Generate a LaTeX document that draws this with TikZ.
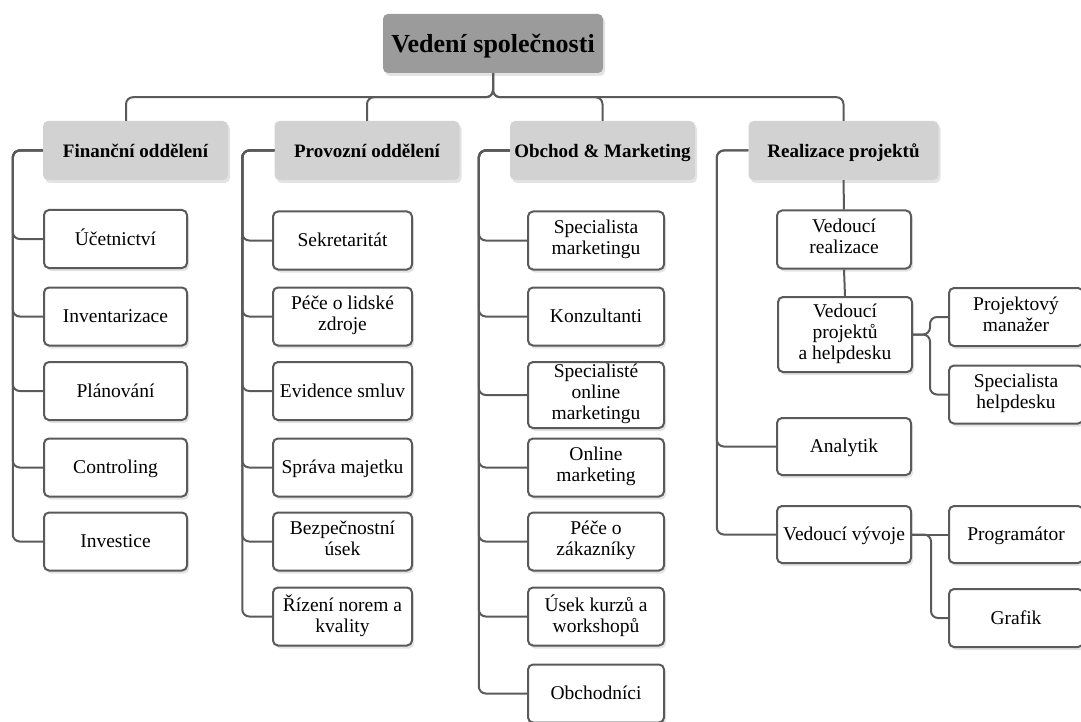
\documentclass[tikz,border=0pt]{standalone}
\usepackage{fontspec}
\setmainfont{Liberation Serif}
\usetikzlibrary{shadows}

\definecolor{linegray}{HTML}{5A5A5A}
\definecolor{rootgray}{HTML}{9B9B9B}
\definecolor{headgray}{HTML}{D2D2D2}

\tikzset{
  boxshadow/.style={drop shadow={opacity=0.22, shadow xshift=2pt, shadow yshift=-3pt}},
  root/.style={fill=rootgray, rounded corners=5pt, minimum width=220pt,
    minimum height=59pt, inner sep=0pt, boxshadow, text height=20pt, text depth=2pt,
    font=\fontsize{26}{30}\selectfont\bfseries},
  head/.style={fill=headgray, rounded corners=5pt, minimum width=185pt,
    minimum height=59pt, inner sep=0pt, boxshadow, text height=17pt, text depth=2pt,
    font=\fontsize{19}{22}\selectfont\bfseries},
  leaf/.style={draw=linegray, line width=2pt, fill=white, rounded corners=5pt,
    minimum height=58pt, inner sep=0pt, align=center, boxshadow,
    execute at begin node={\rule{0pt}{18pt}},
    execute at end node={\rule[-6pt]{0pt}{6pt}},
    font=\fontsize{19.5}{21}\selectfont},
  conn/.style={draw=linegray, line width=2pt, rounded corners=7pt},
}

\begin{document}
\begin{tikzpicture}[x=1pt, y=-1pt]
  \useasboundingbox (0,0) rectangle (1081,722);

  % Vedeni a useky
  \node[root] (vedeni) at (493,43.5) {Vedení společnosti};
  \node[head] (fin) at (135.5,150.5) {Finanční oddělení};
  \node[head] (prov) at (367,150.5) {Provozní oddělení};
  \node[head] (obch) at (602.5,150.5) {Obchod \& Marketing};
  \node[head, minimum width=190pt] (real) at (843.5,150.5) {Realizace projektů};

  % Financni oddeleni
  \begin{scope}[every node/.style={leaf, minimum width=143pt}]
    \node (uct) at (115.5,239) {Účetnictví};
    \node (inv) at (115.5,316.5) {Inventarizace};
    \node (plan) at (115.5,391) {Plánování};
    \node (contr) at (115.5,467.5) {Controling};
    \node (invest) at (115.5,541.5) {Investice};
  \end{scope}

  % Provozni oddeleni
  \begin{scope}[every node/.style={leaf, minimum width=139pt}]
    \node (sekr) at (342.5,240.5) {Sekretaritát};
    \node (lidske) at (342.5,316.5) {Péče o lidské\\zdroje};
    \node (smluv) at (342.5,391) {Evidence smluv};
    \node (majetek) at (342.5,467.5) {Správa majetku};
    \node (bezp) at (342.5,541.5) {Bezpečnostní\\úsek};
    \node (normy) at (342.5,616.5) {Řízení norem a\\kvality};
  \end{scope}

  % Obchod a marketing
  \begin{scope}[every node/.style={leaf, minimum width=136pt}]
    \node (specmkt) at (596,240.5) {Specialista\\marketingu};
    \node (konz) at (596,316.5) {Konzultanti};
    \node[minimum height=66pt] (speconl) at (596,395) {Specialisté\\online\\marketingu};
    \node (onlmkt) at (596,467.5) {Online\\marketing};
    \node (zak) at (596,541.5) {Péče o\\zákazníky};
    \node (kurzy) at (596,616.5) {Úsek kurzů a\\workshopů};
    \node (obchodnici) at (596,693.5) {Obchodníci};
  \end{scope}

  % Realizace projektu
  \begin{scope}[every node/.style={leaf, minimum width=134pt}]
    \node (vedreal) at (844,239.5) {Vedoucí\\realizace};
    \node[minimum height=75pt] (vedproj) at (845,334.5) {Vedoucí\\projektů\\a helpdesku};
    \node[minimum height=57pt] (analytik) at (844,446.5) {Analytik};
    \node[minimum height=57pt] (vedvyv) at (844,534.5) {Vedoucí vývoje};
    \node (manazer) at (1016,317) {Projektový\\manažer};
    \node (helpdesk) at (1016,394.5) {Specialista\\helpdesku};
    \node[minimum height=57pt] (program) at (1016,534.5) {Programátor};
    \node (grafik) at (1016,618) {Grafik};
  \end{scope}

  % Spojnice
  \draw[conn] (vedeni.south) -- ++(0,24) -| ([xshift=-9.5pt]fin.north);
  \foreach \h in {prov, obch, real}
    \draw[conn] (vedeni.south) -- ++(0,24) -| (\h.north);

  \foreach \c in {uct, inv, plan, contr, invest}
    \draw[conn] (fin.west) -- ++(-30,0) |- (\c.west);
  \foreach \c in {sekr, lidske, smluv, majetek, bezp, normy}
    \draw[conn] (prov.west) -- ++(-32,0) |- (\c.west);
  \foreach \c in {specmkt, konz, speconl, onlmkt, zak, kurzy, obchodnici}
    \draw[conn] (obch.west) -- ++(-31,0) |- (\c.west);
  \foreach \c in {analytik, vedvyv}
    \draw[conn] (real.west) -- ++(-31.5,0) |- (\c.west);

  \draw[conn] (real.south) -- (vedreal.north);
  \draw[conn] (vedreal.south) -- (vedproj.north);
  \foreach \c in {manazer, helpdesk}
    \draw[conn] (vedproj.east) -- ++(17,0) |- (\c.west);
  \draw[conn] (vedvyv.east) -- (program.west);
  \draw[conn] (vedvyv.east) -- ++(19,0) |- (grafik.west);
\end{tikzpicture}
\end{document}
